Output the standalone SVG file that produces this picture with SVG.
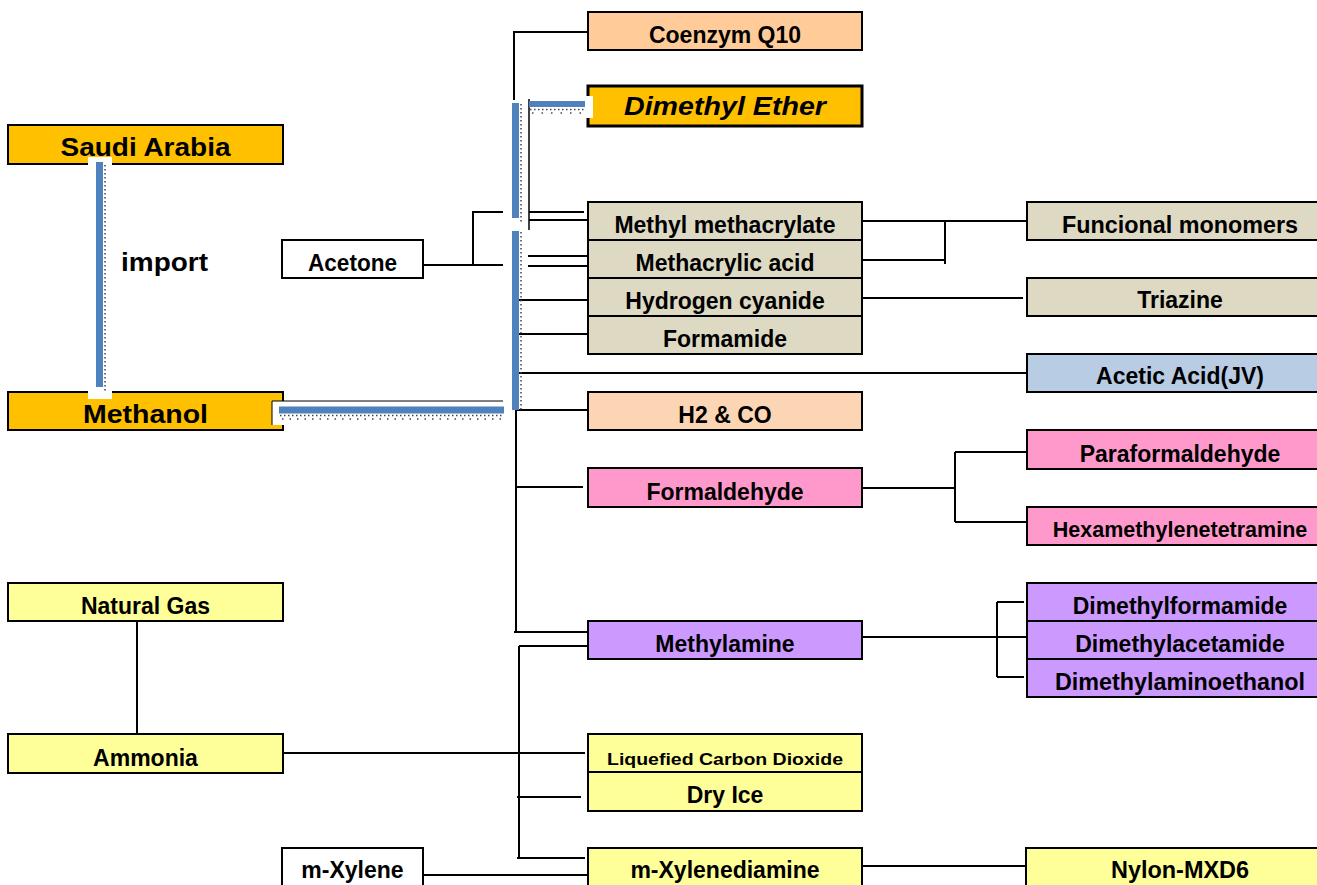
<svg xmlns="http://www.w3.org/2000/svg" width="1317" height="885" viewBox="0 0 1317 885">
<style>
.b{stroke:#000;stroke-width:2}
.t{font-family:"Liberation Sans",Arial,sans-serif;font-weight:bold;font-size:23px;fill:#000;text-anchor:middle}
.big{font-size:26px}
.c{fill:none;stroke:#000;stroke-width:2}
.blue{fill:#4F81BD}
.dot{fill:none;stroke:#444;stroke-width:1.5;stroke-dasharray:1.5 2.5}
.o{fill:#FFC000}.p{fill:#FFCC99}.p2{fill:#FCD5B4}.g{fill:#DDD9C3}.a{fill:#B8CCE4}.k{fill:#FF99CC}.v{fill:#CC99FF}.y{fill:#FFFF99}.w{fill:#fff}
</style>
<rect width="1317" height="885" fill="#fff"/>
<g id="connectors">
<path class="c" d="M514 100V32H587"/>
<path class="c" d="M423 265H503M473 265V212H503"/>
<path class="c" d="M529 212H584M529 220H589M528 256H589M528 266H587M515 300H589M513 334H591M512 373H1027M515 410H588"/>
<path class="c" d="M516 410V632M516 487H583M514 632H588"/>
<path class="c" d="M862 221H1027M862 260H946M945 221V264M862 298H1023"/>
<path class="c" d="M862 488H955M955 452V522M955 452H1027M955 522H1027"/>
<path class="c" d="M858 637H1027M997 602V677M997 602H1024M997 677H1024"/>
<path class="c" d="M137 621V734M283 753H585M519 646V858M519 646H588M517 797H581M517 858H585M423 875H588M862 866H1026"/>
<path d="M529 99V230" stroke="#000" stroke-width="1.5" fill="none"/>
</g>
<g id="saudi"><rect class="b o" x="8" y="125" width="275" height="39"/><text class="t big" x="145.5" y="156" textLength="170" lengthAdjust="spacingAndGlyphs">Saudi Arabia</text></g>
<g id="methanol"><rect class="b o" x="8" y="392" width="275" height="38"/><text class="t big" x="145.5" y="423" textLength="125" lengthAdjust="spacingAndGlyphs">Methanol</text></g>
<g id="import-link">
<rect class="w" x="88" y="157" width="24" height="242"/>
<rect class="blue" x="96" y="162" width="7" height="225"/>
<path class="dot" d="M105 165V392"/>
<text class="t big" x="121" y="271" style="text-anchor:start" textLength="87" lengthAdjust="spacingAndGlyphs">import</text>
</g>
<g id="methanol-link">
<rect class="w" x="272" y="401" width="231" height="24"/>
<path d="M272 425V401H503" stroke="#000" stroke-width="1" fill="none"/>
<rect class="blue" x="279" y="406.5" width="225" height="7"/>
<path class="dot" d="M280 415.5H504"/>
<path class="dot" d="M282 419H504" style="stroke-dasharray:1.5 6"/>
</g>
<g id="trunk">
<rect class="blue" x="512" y="103" width="7" height="115"/>
<rect class="blue" x="512" y="231" width="7" height="179"/>
<path class="dot" d="M521 104V223M521 232V410"/>
</g>
<g id="dme-link">
<rect class="blue" x="529" y="101" width="56" height="6"/>
<path class="dot" d="M530 109.5H585"/>
<path class="dot" d="M532 113H585" style="stroke-dasharray:1.5 8"/>
</g>
<g id="acetone"><rect class="b w" x="282" y="240" width="141" height="38"/><text class="t" x="352.5" y="271" textLength="89" lengthAdjust="spacingAndGlyphs">Acetone</text></g>
<g id="coenzym"><rect class="b p" x="588" y="12" width="274" height="38"/><text class="t" x="725" y="43">Coenzym Q10</text></g>
<g id="dme"><rect stroke="#000" stroke-width="3" class="o" x="588" y="86" width="274" height="40"/><rect class="w" x="585" y="96" width="8" height="22"/><text class="t big" x="725" y="115" font-style="italic" textLength="202" lengthAdjust="spacingAndGlyphs">Dimethyl Ether</text></g>
<g id="mma"><rect class="b g" x="588" y="202" width="274" height="38"/><text class="t" x="725" y="233">Methyl methacrylate</text></g>
<g id="maa"><rect class="b g" x="588" y="240" width="274" height="38"/><text class="t" x="725" y="271">Methacrylic acid</text></g>
<g id="hcn"><rect class="b g" x="588" y="278" width="274" height="38"/><text class="t" x="725" y="309">Hydrogen cyanide</text></g>
<g id="formamide"><rect class="b g" x="588" y="316" width="274" height="38"/><text class="t" x="725" y="347">Formamide</text></g>
<g id="h2co"><rect class="b p2" x="588" y="392" width="274" height="38"/><text class="t" x="725" y="423">H2 &amp; CO</text></g>
<g id="formaldehyde"><rect class="b k" x="588" y="468" width="274" height="39"/><text class="t" x="725" y="500">Formaldehyde</text></g>
<g id="methylamine"><rect class="b v" x="588" y="621" width="274" height="38"/><text class="t" x="725" y="652">Methylamine</text></g>
<g id="lco2"><rect class="b y" x="588" y="734" width="274" height="38"/><text class="t" x="725" y="765" style="font-size:17px" textLength="236" lengthAdjust="spacingAndGlyphs">Liquefied Carbon Dioxide</text></g>
<g id="dryice"><rect class="b y" x="588" y="772" width="274" height="39"/><text class="t" x="725" y="803">Dry Ice</text></g>
<g id="mxda"><rect class="b y" x="588" y="848" width="274" height="42"/><text class="t" x="725" y="878">m-Xylenediamine</text></g>
<g id="funcmono"><rect class="b g" x="1027" y="202" width="291" height="38"/><text class="t" x="1180" y="233" textLength="236" lengthAdjust="spacingAndGlyphs">Funcional monomers</text></g>
<g id="triazine"><rect class="b g" x="1027" y="278" width="291" height="38"/><text class="t" x="1180" y="308">Triazine</text></g>
<g id="acetic"><rect class="b a" x="1027" y="354" width="291" height="38"/><text class="t" x="1180" y="384">Acetic Acid(JV)</text></g>
<g id="paraform"><rect class="b k" x="1027" y="430" width="291" height="39"/><text class="t" x="1180" y="462">Paraformaldehyde</text></g>
<g id="hexa"><rect class="b k" x="1027" y="507" width="291" height="38"/><text class="t" x="1180" y="537" style="font-size:21.5px">Hexamethylenetetramine</text></g>
<g id="dmf"><rect class="b v" x="1027" y="583" width="291" height="38"/><text class="t" x="1180" y="614">Dimethylformamide</text></g>
<g id="dmac"><rect class="b v" x="1027" y="621" width="291" height="38"/><text class="t" x="1180" y="652">Dimethylacetamide</text></g>
<g id="dmae"><rect class="b v" x="1027" y="659" width="291" height="38"/><text class="t" x="1180" y="690" textLength="250" lengthAdjust="spacingAndGlyphs">Dimethylaminoethanol</text></g>
<g id="nylon"><rect class="b y" x="1026" y="848" width="292" height="42"/><text class="t" x="1180" y="878" textLength="138" lengthAdjust="spacingAndGlyphs">Nylon-MXD6</text></g>
<g id="natgas"><rect class="b y" x="8" y="583" width="275" height="38"/><text class="t" x="145.5" y="614">Natural Gas</text></g>
<g id="ammonia"><rect class="b y" x="8" y="734" width="275" height="39"/><text class="t" x="145.5" y="766">Ammonia</text></g>
<g id="mxylene"><rect class="b w" x="282" y="848" width="141" height="42"/><text class="t" x="352.5" y="878">m-Xylene</text></g>
</svg>
